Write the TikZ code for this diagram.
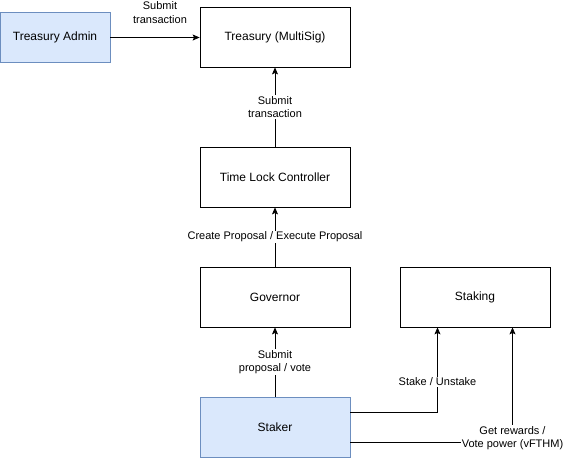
\documentclass[tikz,border=0pt]{standalone}
\usepackage{fontspec}
\setmainfont{Liberation Sans}
\usetikzlibrary{arrows.meta}
\definecolor{bluefill}{HTML}{DAE8FC}
\definecolor{bluestroke}{HTML}{6C8EBF}
\begin{document}
\begin{tikzpicture}[x=1pt,y=-1pt,
  box/.style={draw=black, fill=white, minimum width=150pt, minimum height=60pt, inner sep=0pt, font=\fontsize{12}{14}\selectfont, line width=0.8pt},
  bluebox/.style={box, fill=bluefill, draw=bluestroke},
  conn/.style={line width=0.8pt, -{Stealth[length=7pt,width=6pt,inset=1.5pt]}},
  lbl/.style={fill=white, inner sep=1pt, align=center, font=\fontsize{11}{13.5}\selectfont}
]
\useasboundingbox (0,0) rectangle (563,459);
\node[bluebox, minimum width=110pt, minimum height=50pt] (admin) at (55,37.5) {Treasury Admin};
\node[box] (treasury) at (275,37) {Treasury (MultiSig)};
\node[box] (timelock) at (275,177) {Time Lock Controller};
\node[box] (governor) at (275,297) {Governor};
\node[box] (staking) at (475,297) {Staking};
\node[bluebox] (staker) at (275,427) {Staker};

\draw[conn] (admin.east) -- (treasury.west |- admin.east);
\node[lbl, fill=none] (l1) at (160,12.5) {Submit\\transaction};

\draw[conn] (timelock.north) -- (treasury.south);
\node[lbl] (l2) at (275,107) {Submit\\transaction};

\draw[conn] (governor.north) -- (timelock.south);
\node[lbl] (l3) at (275,237) {Create Proposal / Execute Proposal};

\draw[conn] (staker.north) -- (governor.south);
\node[lbl] (l4) at (275,362) {Submit\\proposal / vote};

\coordinate (c1) at (437.5,412);
\coordinate (c2) at (512.5,442);
\draw[conn] (staker.east |- c1) -- (c1) -- (c1 |- staking.south);
\node[lbl] (l5) at (437.5,382) {Stake / Unstake};

\draw[conn] (staker.east |- c2) -- (c2) -- (c2 |- staking.south);
\node[lbl] (l6) at (512.5,438) {Get rewards /\\Vote power (vFTHM)};
\end{tikzpicture}
\end{document}
